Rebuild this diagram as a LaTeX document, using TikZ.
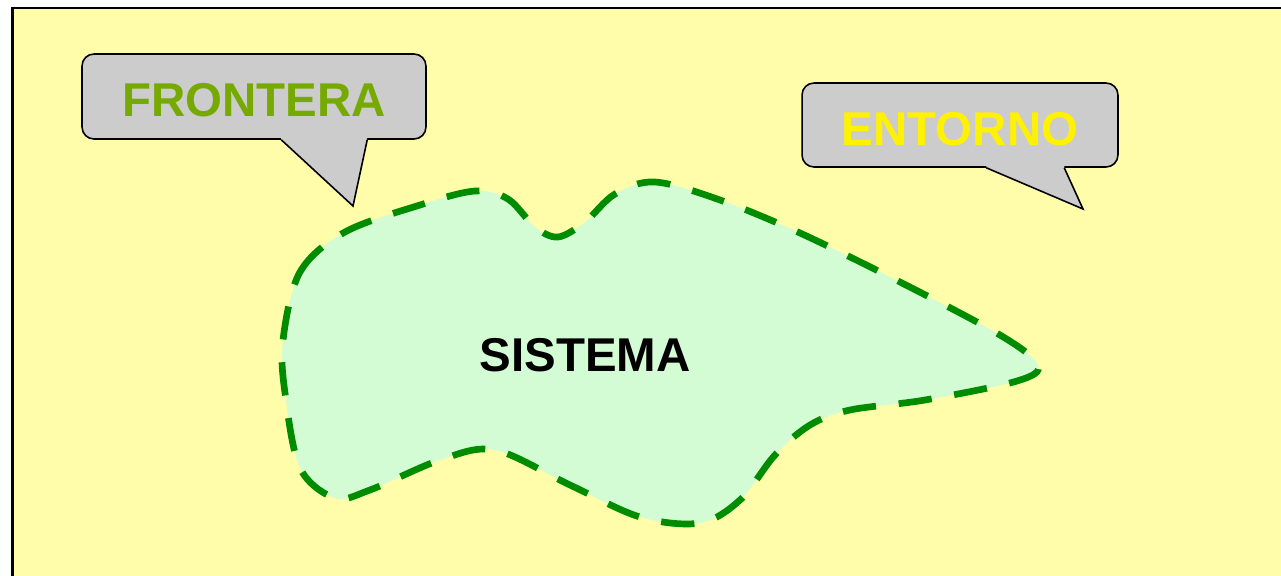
\documentclass[tikz,border=0pt]{standalone}
\usepackage{fontspec}
\setmainfont{Liberation Sans}
\usepackage{tikz}
\usetikzlibrary{calc}
\definecolor{paleyellow}{RGB}{255,252,170}
\definecolor{palegreen}{RGB}{212,252,212}
\definecolor{darkgreen}{RGB}{0,140,0}
\definecolor{olivegreen}{RGB}{119,170,0}
\definecolor{calloutgray}{RGB}{204,204,204}
\tikzset{%
    callout/.style={%
        draw=black, line width=0.9pt, fill=calloutgray,
        rounded corners=6.8pt, inner sep=0pt, text height=23.5pt,
        font=\fontsize{27}{32}\selectfont\bfseries
    },
    pointer/.style={draw=black, line width=0.9pt, line join=miter},
    boundary/.style={%
        draw=darkgreen, fill=palegreen, line width=3.8pt,
        dash pattern=on 19pt off 13pt
    }
}

\begin{document}
\begin{tikzpicture}[x=0.02cm,y=-0.02cm]
    \useasboundingbox (0,0) rectangle (1281,575);
    \clip (0,0) rectangle (1281,575);
    \draw[fill=paleyellow, line width=1.2pt] (12.5,8) rectangle (1300,600);
    % sistema
    \draw[boundary] plot[smooth cycle, tension=0.55] coordinates {
        (283,340) (300,272) (345,232) (420,205) (475,191) (508,199)
        (535,227) (558,237) (585,222) (615,194) (655,182) (720,200)
        (800,233) (900,282) (1000,335) (1038,365) (1017,381) (925,400)
        (850,410) (810,425) (775,455) (740,500) (700,523) (640,517)
        (570,485) (495,450) (440,460) (370,490) (335,498) (300,468)
        (285,393)};
    \node[font=\fontsize{27}{32}\selectfont\bfseries] (sistema) at (585,355) {SISTEMA};
    % callouts
    \node[callout, minimum width=6.88cm, minimum height=1.7cm,
        text=olivegreen] (frontera) at (254,96.5) {FRONTERA};
    \node[callout, minimum width=6.32cm, minimum height=1.68cm,
        text=yellow] (entorno) at (960,125) {ENTORNO};
    \coordinate (fronteratip) at (353,206);
    \coordinate (entornotip) at (1083,209);
    \fill[calloutgray] ($(frontera.south west)+(200,-4)$) -- ($(frontera.south west)+(286,-4)$)
        -- ($(frontera.south west)+(286,0)$) -- (fronteratip) -- ($(frontera.south west)+(200,0)$) -- cycle;
    \draw[pointer] ($(frontera.south west)+(200,0)$) -- (fronteratip) -- ($(frontera.south west)+(286,0)$);
    \fill[calloutgray] ($(entorno.south west)+(185,-4)$) -- ($(entorno.south west)+(263,-4)$)
        -- ($(entorno.south west)+(263,0)$) -- (entornotip) -- ($(entorno.south west)+(185,0)$) -- cycle;
    \draw[pointer] ($(entorno.south west)+(185,0)$) -- (entornotip) -- ($(entorno.south west)+(263,0)$);
\end{tikzpicture}
\end{document}
